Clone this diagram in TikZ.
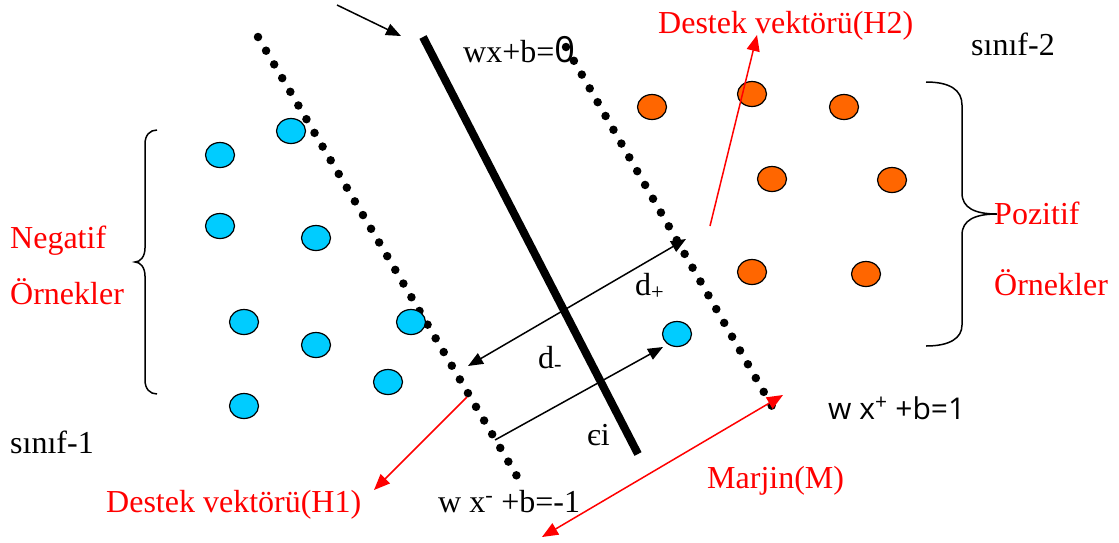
\documentclass[tikz,border=0pt]{standalone}
\usepackage{fontspec}
\setmainfont{Liberation Serif}
\newfontfamily\eqfont{Open Sans}
\usepackage{tikz}
\usetikzlibrary{shapes.geometric,arrows.meta}
\definecolor{negblue}{RGB}{0,204,255}
\definecolor{posorange}{RGB}{255,102,0}
\definecolor{labelred}{RGB}{255,0,0}

\tikzset{
    negpt/.style={draw,ellipse,line width=1.2pt,fill=negblue,minimum width=29pt,minimum height=25pt,inner sep=0pt},
    pospt/.style={draw,ellipse,line width=1.2pt,fill=posorange,minimum width=29pt,minimum height=25pt,inner sep=0pt},
    txt/.style={anchor=base west,inner sep=0pt,font=\fontsize{32}{38}\selectfont},
    redtxt/.style={txt,text=labelred},
    dotline/.style={line width=8.5pt,line cap=round,dash pattern=on 0pt off 15.9pt},
    blkarrow/.style={line width=1.5pt,-{Triangle[length=15pt,width=12pt]}},
    redarrow/.style={draw=labelred,line width=1.5pt,-{Triangle[length=16pt,width=13pt]}},
    bracepath/.style={line width=1.5pt}
}

\begin{document}
\begin{tikzpicture}[x=1pt,y=-1pt]
        \useasboundingbox (0,0) rectangle (1119,542);

        \coordinate (sepA) at (423,37);
        \coordinate (sepB) at (638,454);
        \coordinate (hA) at (258,37);
        \coordinate (hB) at (518,478);
        \coordinate (pA) at (566,47);
        \coordinate (pB) at (773,408);

        \draw[line width=8pt] (sepA) -- (sepB);
        \draw[dotline] (hA) -- (hB);
        \draw[dotline] (pA) -- (pB);

        \node[negpt] (n1) at (291,131) {};
        \node[negpt] (n2) at (220,155) {};
        \node[negpt] (n3) at (220,226) {};
        \node[negpt] (n4) at (316,238) {};
        \node[negpt] (n5) at (244,322) {};
        \node[negpt] (n6) at (411,322) {};
        \node[negpt] (n7) at (316,345) {};
        \node[negpt] (n8) at (388,382) {};
        \node[negpt] (n9) at (244,406) {};
        \node[negpt] (nx) at (677,334) {};

        \node[pospt] (p1) at (652,107) {};
        \node[pospt] (p2) at (752,94) {};
        \node[pospt] (p3) at (844,107) {};
        \node[pospt] (p4) at (772,179) {};
        \node[pospt] (p5) at (892,180) {};
        \node[pospt] (p6) at (752,272) {};
        \node[pospt] (p7) at (866,274) {};

        \draw[bracepath] (157,130) .. controls (150,130) and (145,135) .. (145,144) -- (145,248)
            .. controls (145,257) and (140,262) .. (135,262) .. controls (140,262) and (145,267) .. (145,276)
            -- (145,380) .. controls (145,389) and (150,394) .. (157,394);
        \draw[bracepath] (926,82) .. controls (950,82) and (962,90) .. (962,105) -- (962,193)
            .. controls (962,208) and (975,214) .. (997,214) .. controls (975,214) and (962,220) .. (962,235)
            -- (962,325) .. controls (962,338) and (950,346) .. (926,346);

        \coordinate (hintA) at (337,5);
        \coordinate (hintB) at (401,36);
        \coordinate (dm) at (468,366);
        \coordinate (dp) at (686,239);
        \coordinate (eA) at (495,440);
        \coordinate (eB) at (663,347);
        \coordinate (svTwoA) at (710,226);
        \coordinate (svTwoB) at (757,35);
        \coordinate (svOneA) at (467,397);
        \coordinate (svOneB) at (374,490);
        \coordinate (mA) at (542,537);
        \coordinate (mB) at (783,395);

        \draw[blkarrow] (hintA) -- (hintB);
        \draw[blkarrow,{Triangle[length=15pt,width=12pt]}-{Triangle[length=15pt,width=12pt]}] (dm) -- (dp);
        \draw[blkarrow] (eA) -- (eB);
        \draw[redarrow] (svTwoA) -- (svTwoB);
        \draw[redarrow] (svOneA) -- (svOneB);
        \draw[redarrow,{Triangle[length=16pt,width=13pt]}-{Triangle[length=16pt,width=13pt]}] (mA) -- (mB);

        \node[txt] (hyp) at (463,62) {wx+b={\eqfont\fontsize{36}{40}\selectfont 0}};
        \node[redtxt] (svTwo) at (658,33) {Destek vektörü(H2)};
        \node[txt] (cls2) at (971,55) {sınıf-2};
        \node[redtxt] (negA) at (10,248) {Negatif};
        \node[redtxt] (negB) at (10,304) {Örnekler};
        \node[redtxt] (posA) at (994,224) {Pozitif};
        \node[redtxt] (posB) at (994,295) {Örnekler};
        \node[txt] (dplus) at (635,295) {d\textsubscript{+}};
        \node[txt] (dminus) at (538,368) {d\textsubscript{-}};
        \node[txt] (eps) at (587,445) {єi};
        \node[txt,font=\eqfont\fontsize{30}{36}\selectfont] (hplus) at (828,419) {w x\textsuperscript{+} +b=1};
        \node[redtxt] (marj) at (707,488) {Marjin(M)};
        \node[redtxt] (svOne) at (106,512) {Destek vektörü(H1)};
        \node[txt] (hminus) at (438,512) {w x\textsuperscript{-} +b=-1};
        \node[txt] (cls1) at (10,453) {sınıf-1};
    \end{tikzpicture}
\end{document}
